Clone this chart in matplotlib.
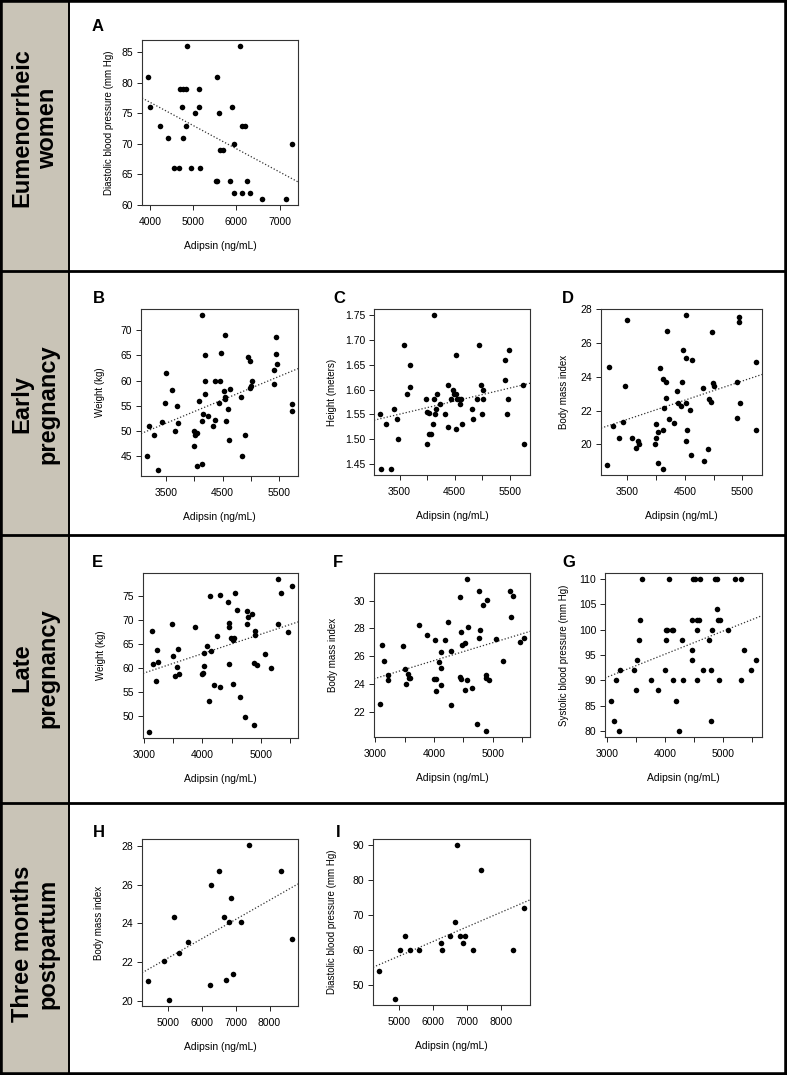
import matplotlib.pyplot as plt
import numpy as np
from matplotlib.patches import Rectangle
from matplotlib.lines import Line2D

plt.rcParams['font.family'] = ['Liberation Sans', 'DejaVu Sans']

# ---- data ----
group_labels = ["Eumenorrheic\nwomen", "Early\npregnancy", "Late\npregnancy", "Three months\npostpartum"]

# A: eumenorrheic women
a_adipsin = [3950, 4000, 4230, 4410, 4550, 4670, 4700, 4760, 4840, 4750, 4770, 4830, 4850,
             4960, 5050, 5140, 5140, 5160, 5540, 5520, 5560, 5600, 5610, 5680, 5890, 5860,
             5940, 5950, 6080, 6120, 6140, 6200, 6250, 6320, 6590, 7140, 7290]
a_dbp = [81, 76, 73, 71, 66, 66, 79, 79, 79, 76, 71, 73, 86, 66, 75, 79, 76, 66, 81, 64,
         64, 75, 69, 69, 76, 64, 62, 70, 86, 62, 73, 73, 64, 62, 61, 61, 70]

# B-D: early pregnancy
b_adipsin = [3156, 3192, 3275, 3359, 3431, 3473, 3497, 3599, 3653, 3695, 3707, 4000, 4006,
             4042, 4000, 4042, 4072, 4126, 4132, 4132, 4156, 4180, 4186, 4192, 4234, 4323,
             4365, 4371, 4443, 4455, 4473, 4521, 4533, 4533, 4545, 4551, 4599, 4617, 4629,
             4826, 4844, 4904, 4940, 4982, 4988, 5000, 5012, 5401, 5413, 5443, 5437, 5467,
             5731, 5731]
b_weight = [45, 51, 49.3, 42.3, 51.7, 55.5, 61.5, 58.2, 50, 55, 51.6, 50, 49.3, 49.6, 47, 43,
            56, 43.4, 73, 52, 53.3, 57.4, 59.9, 65, 53, 51, 52.1, 60, 55.6, 60, 65.5, 58, 69,
            56.3, 56.7, 52, 54.3, 48.3, 58.4, 56.8, 45, 49.2, 64.7, 64, 58.5, 58.9, 60, 62.2,
            59.4, 68.7, 65.3, 63.3, 55.3, 54]

c_adipsin = [3139, 3170, 3261, 3339, 3394, 3455, 3479, 3588, 3642, 3685, 3697, 3988, 3994,
             4000, 4030, 4036, 4067, 4103, 4121, 4121, 4139, 4164, 4182, 4230, 4321, 4370,
             4370, 4442, 4467, 4485, 4521, 4521, 4533, 4545, 4582, 4600, 4624, 4636, 4824,
             4842, 4909, 4945, 4982, 4994, 5006, 5018, 5418, 5418, 5448, 5461, 5485, 5745, 5764]
c_height = [1.55, 1.44, 1.53, 1.44, 1.56, 1.54, 1.50, 1.69, 1.59, 1.65, 1.605, 1.58, 1.49,
            1.555, 1.553, 1.51, 1.51, 1.53, 1.75, 1.58, 1.55, 1.56, 1.59, 1.57, 1.55, 1.61,
            1.525, 1.58, 1.60, 1.59, 1.67, 1.52, 1.59, 1.58, 1.58, 1.57, 1.58, 1.53, 1.56,
            1.54, 1.58, 1.69, 1.61, 1.55, 1.58, 1.60, 1.66, 1.62, 1.55, 1.58, 1.68, 1.61, 1.49]

d_adipsin = [3150, 3180, 3263, 3359, 3425, 3467, 3491, 3587, 3647, 3695, 3701, 3994, 4000,
             3988, 4036, 4042, 4072, 4120, 4120, 4126, 4144, 4174, 4180, 4186, 4228, 4317,
             4365, 4377, 4431, 4449, 4467, 4521, 4521, 4527, 4521, 4545, 4593, 4617, 4629,
             4814, 4832, 4898, 4922, 4958, 4970, 4994, 5006, 5401, 5413, 5443, 5449, 5461,
             5737, 5731]
d_bmi = [18.75, 24.56, 21.06, 20.37, 21.3, 23.43, 27.35, 20.4, 19.8, 20.2, 20.0, 21.18, 20.4,
         20.04, 18.87, 20.7, 24.52, 20.83, 18.55, 23.87, 22.15, 22.72, 23.71, 26.72, 21.52,
         21.26, 23.16, 22.43, 22.29, 23.71, 25.6, 25.09, 27.64, 22.45, 20.2, 20.85, 22.03,
         19.36, 24.96, 23.36, 18.99, 19.72, 22.68, 22.53, 26.64, 23.65, 23.45, 23.71, 21.58,
         27.25, 27.53, 22.45, 24.88, 20.85]

# E-G: late pregnancy
e_adipsin = [3080, 3131, 3160, 3211, 3222, 3234, 3484, 3496, 3524, 3564, 3575, 3604, 3877,
             3991, 4008, 4020, 4031, 4071, 4117, 4134, 4140, 4197, 4248, 4299, 4299, 4447,
             4453, 4464, 4459, 4487, 4533, 4544, 4533, 4567, 4590, 4652, 4738, 4772, 4772,
             4789, 4852, 4892, 4937, 4886, 4903, 4909, 5068, 5182, 5296, 5302, 5348, 5473, 5541]
e_weight = [46.7, 67.8, 60.8, 57.3, 63.75, 61.3, 69.3, 62.5, 58.3, 60.3, 64.0, 58.8, 68.7,
            58.7, 59.0, 63.2, 60.5, 64.6, 53.1, 75.1, 63.5, 56.4, 66.7, 75.3, 56.0, 73.75,
            60.9, 69.4, 68.5, 66.3, 65.9, 66.2, 56.6, 75.8, 72.1, 54.0, 49.9, 71.9, 69.2,
            70.7, 71.4, 61.0, 60.6, 48.2, 67.8, 66.9, 63.0, 60.1, 78.6, 69.3, 75.7, 67.5, 77.2]

f_adipsin = [3074, 3120, 3154, 3217, 3222, 3473, 3496, 3519, 3558, 3564, 3593, 3746, 3872,
             3991, 4026, 4014, 4026, 4077, 4117, 4123, 4111, 4185, 4242, 4288, 4288, 4442,
             4448, 4453, 4465, 4482, 4527, 4527, 4556, 4556, 4584, 4647, 4738, 4772, 4772,
             4789, 4840, 4886, 4880, 4890, 4930, 4909, 5063, 5182, 5296, 5353, 5308, 5456, 5536]
f_bmi = [22.52, 26.81, 25.67, 24.6, 24.29, 26.69, 25.05, 23.95, 24.7, 24.45, 24.45, 28.26,
         27.52, 24.38, 24.38, 27.19, 23.5, 25.57, 26.26, 25.14, 23.9, 27.19, 28.45, 26.38,
         22.45, 30.29, 24.5, 24.35, 27.74, 26.83, 26.93, 23.55, 24.24, 31.55, 28.12, 23.71,
         21.1, 30.71, 27.33, 27.9, 29.71, 20.6, 24.6, 24.4, 24.25, 30.07, 27.24, 25.67,
         30.67, 30.31, 28.8, 26.98, 27.31]

g_adipsin = [3058, 3116, 3145, 3198, 3209, 3465, 3494, 3512, 3552, 3564, 3593, 3750, 3872,
             4006, 4023, 4023, 4040, 4076, 4116, 4145, 4134, 4198, 4250, 4302, 4308, 4459,
             4459, 4465, 4483, 4512, 4552, 4581, 4558, 4547, 4605, 4663, 4756, 4797, 4791,
             4808, 4860, 4895, 4901, 4924, 4953, 4936, 5099, 5215, 5326, 5326, 5378, 5494, 5581]
g_sbp = [86, 82, 90, 80, 92, 92, 88, 94, 98, 102, 110, 90, 88, 92, 98, 100, 100, 110, 100,
         100, 90, 86, 80, 98, 90, 96, 94, 102, 110, 110, 102, 102, 100, 90, 110, 92, 98, 92,
         82, 100, 110, 110, 104, 102, 102, 90, 100, 110, 110, 90, 96, 92, 94]

# H-I: three months postpartum (same women in both panels)
pp_adipsin = [4400, 4890, 5030, 5170, 5310, 5590, 6240, 6270, 6500, 6640, 6710, 6790, 6870,
              6920, 7170, 7400, 8330, 8670]
h_bmi = [21.0, 22.05, 20.05, 24.35, 22.45, 23.05, 20.8, 26.0, 26.7, 24.35, 21.1, 24.05, 25.3,
         21.4, 24.1, 28.05, 26.7, 23.2]
i_dbp = [54, 46, 60, 64, 60, 60, 62, 60, 64, 68, 90, 64, 62, 64, 60, 83, 60, 72]

# ---- figure ----
W, H = 787, 1075
fig = plt.figure(figsize=(W / 100, H / 100), dpi=100)


def fx(x):
    return x / W


def fy(y):
    return 1 - y / H


# frame: grey side column, borders, row separators
fig.add_artist(Rectangle((0, 0), fx(69), 1, transform=fig.transFigure,
                         facecolor='#c9c4b7', edgecolor='none', zorder=0))
for yy in [271, 535, 803]:
    fig.add_artist(Line2D([0, 1], [fy(yy), fy(yy)], transform=fig.transFigure,
                          color='black', lw=2.0))
fig.add_artist(Line2D([fx(69), fx(69)], [0, 1], transform=fig.transFigure, color='black', lw=1.4))
fig.add_artist(Rectangle((0, 0), 1, 1, transform=fig.transFigure, fill=False,
                         edgecolor='black', lw=4.0))

row_centers = [128, 404, 668, 944]
for lab, yc in zip(group_labels, row_centers):
    fig.text(fx(35), fy(yc), lab, rotation=90, ha='center', va='center',
             fontsize=17, fontweight='bold', linespacing=1.15)


def padded(v):
    lo, hi = min(v), max(v)
    r = hi - lo
    return lo - 0.04 * r, hi + 0.04 * r


def panel(box, x, y, letter, letter_xy, ylabel, yticks, xticks, xlabels, ylab_dist, yfmt='{:g}'):
    l, t, r, b = box
    ax = fig.add_axes([fx(l), fy(b), (r - l) / W, (b - t) / H])
    ax.scatter(x, y, s=16, c='black', linewidths=0, zorder=3)
    x0, x1 = padded(x)
    y0, y1 = padded(y)
    m, c = np.polyfit(x, y, 1)
    xs = np.array([x0, x1])
    ax.plot(xs, m * xs + c, ls=(0, (1, 1.6)), color='#333333', lw=0.9)
    ax.set_xlim(x0, x1)
    ax.set_ylim(y0, y1)
    ax.set_xticks(xticks)
    ax.set_xticklabels(xlabels)
    ax.set_yticks(yticks)
    ax.set_yticklabels([yfmt.format(v) for v in yticks])
    ax.tick_params(axis='both', labelsize=7.5, length=3.8, width=0.7, color='#222222')
    ax.tick_params(axis='x', pad=5)
    ax.tick_params(axis='y', pad=2.5)
    for s in ax.spines.values():
        s.set_linewidth(0.8)
        s.set_color('#333333')
    wpx, hpx = r - l, b - t
    ax.text(0.5, -41 / hpx, 'Adipsin (ng/mL)', transform=ax.transAxes,
            ha='center', va='center', fontsize=7.5)
    ax.text(-ylab_dist / wpx, 0.5, ylabel, transform=ax.transAxes, rotation=90,
            ha='center', va='center', fontsize=7)
    fig.text(fx(letter_xy[0]), fy(letter_xy[1]), letter, ha='left', va='baseline',
             fontsize=12, fontweight='bold')
    return ax


ticks_early = [3500, 4000, 4500, 5000, 5500]
labels_early = ['3500', '', '4500', '', '5500']
ticks_late = [3000, 3500, 4000, 4500, 5000, 5500]
labels_late = ['3000', '', '4000', '', '5000', '']
ticks_pp = [5000, 6000, 7000, 8000]

panel((142, 40, 298, 205), a_adipsin, a_dbp, 'A', (92, 31), 'Diastolic blood pressure (mm Hg)',
      [60, 65, 70, 75, 80, 85], [4000, 5000, 6000, 7000], ['4000', '5000', '6000', '7000'], 33)

panel((141, 309, 298, 476), b_adipsin, b_weight, 'B', (93, 303), 'Weight (kg)',
      [45, 50, 55, 60, 65, 70], ticks_early, labels_early, 41)
panel((374, 309, 530, 475), c_adipsin, c_height, 'C', (333, 303), 'Height (meters)',
      [1.45, 1.50, 1.55, 1.60, 1.65, 1.70, 1.75], ticks_early, labels_early, 42, '{:.2f}')
panel((601, 309, 762, 475), d_adipsin, d_bmi, 'D', (562, 303), 'Body mass index',
      [20, 22, 24, 26, 28], ticks_early, labels_early, 37)

panel((143, 573, 298, 738), e_adipsin, e_weight, 'E', (92, 567), 'Weight (kg)',
      [50, 55, 60, 65, 70, 75], ticks_late, labels_late, 42)
panel((374, 573, 530, 737), f_adipsin, f_bmi, 'F', (333, 567), 'Body mass index',
      [22, 24, 26, 28, 30], ticks_late, labels_late, 41)
panel((605, 573, 762, 737), g_adipsin, g_sbp, 'G', (562, 567), 'Systolic blood pressure (mm Hg)',
      [80, 85, 90, 95, 100, 105, 110], ticks_late, labels_late, 41)

panel((142, 839, 298, 1006), pp_adipsin, h_bmi, 'H', (93, 837), 'Body mass index',
      [20, 22, 24, 26, 28], ticks_pp, [str(v) for v in ticks_pp], 43)
panel((373, 839, 530, 1005), pp_adipsin, i_dbp, 'I', (336, 837), 'Diastolic blood pressure (mm Hg)',
      [50, 60, 70, 80, 90], ticks_pp, [str(v) for v in ticks_pp], 41)

fig.savefig('out.png', dpi=100)
